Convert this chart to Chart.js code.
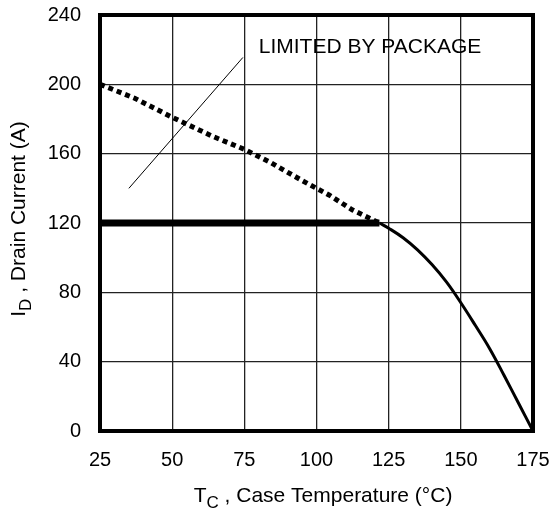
<!DOCTYPE html>
<html>
<head>
<meta charset="utf-8">
<script src="https://cdn.jsdelivr.net/npm/chart.js@4/dist/chart.umd.min.js"></script>
<style>
  body { margin: 0; background: #fff; }
  #wrap { width: 553px; height: 519px; }
</style>
</head>
<body>
<div id="wrap"><canvas id="chart"></canvas></div>
<script>
// values
var xTicks = [25, 50, 75, 100, 125, 150, 175];
var yTicks = [0, 40, 80, 120, 160, 200, 240];

// package limit (dotted)
var pkgTemp    = [25, 37, 50, 64, 75, 84, 95, 104.5, 112.5, 121.8];
var pkgCurrent = [200, 192, 181, 170, 162.5, 155, 144.5, 136, 127.5, 120];

// flat 120 A limit (thick)
var flatTemp    = [25, 121.8];
var flatCurrent = [120, 120];

// die limit derating curve
var dieTemp    = [121.8, 125, 130, 135, 140, 145, 150, 155, 160, 165, 170, 175];
var dieCurrent = [120, 117, 111.5, 104.5, 96, 86, 74, 61, 47.5, 32, 16, 0];

// pointer line to the note
var noteTemp    = [35, 74.5];
var noteCurrent = [140, 215.5];
var noteText = 'LIMITED BY PACKAGE';

function pts(xs, ys){
  return xs.map((x, i) => ({x: x, y: ys[i]}));
}

var FONT = '"Liberation Sans", Arial, Helvetica, sans-serif';

// frame, note text and axis titles with subscripts
var extras = {
  id: 'extras',
  afterDatasetsDraw(chart){
    var ctx = chart.ctx, a = chart.chartArea;
    var sx = chart.scales.x, sy = chart.scales.y;
    ctx.save();
    ctx.strokeStyle = '#000';
    ctx.lineWidth = 4;
    ctx.strokeRect(a.left, a.top, a.right - a.left, a.bottom - a.top);

    ctx.fillStyle = '#000';
    ctx.font = '21px ' + FONT;
    ctx.textBaseline = 'middle';
    ctx.textAlign = 'left';
    ctx.fillText(noteText, sx.getPixelForValue(80), sy.getPixelForValue(221.5));

    ctx.textBaseline = 'alphabetic';
    // x title
    drawSub(ctx, 323, 502, 'T', 'C', ' , Case Temperature (°C)');
    // y title
    ctx.translate(25, 219);
    ctx.rotate(-Math.PI / 2);
    drawSub(ctx, 0, 0, 'I', 'D', ' , Drain Current (A)');
    ctx.restore();
  }
};

function drawSub(ctx, cx, base, main, sub, rest){
  var big = '21px ' + FONT, small = '17px ' + FONT;
  ctx.font = big;
  var w1 = ctx.measureText(main).width;
  var w3 = ctx.measureText(rest).width;
  ctx.font = small;
  var w2 = ctx.measureText(sub).width;
  var x = cx - (w1 + w2 + w3) / 2;
  ctx.textAlign = 'left';
  ctx.font = big;
  ctx.fillText(main, x, base);
  ctx.font = small;
  ctx.fillText(sub, x + w1, base + 6);
  ctx.font = big;
  ctx.fillText(rest, x + w1 + w2, base);
}

new Chart(document.getElementById('chart'), {
  type: 'scatter',
  data: {
    datasets: [
      {
        data: pts(pkgTemp, pkgCurrent),
        showLine: true, borderColor: '#000', borderWidth: 5,
        borderDash: [5, 4], pointRadius: 0, clip: 8
      },
      {
        data: pts(flatTemp, flatCurrent),
        showLine: true, borderColor: '#000', borderWidth: 7,
        pointRadius: 0, clip: 8
      },
      {
        data: pts(dieTemp, dieCurrent),
        showLine: true, borderColor: '#000', borderWidth: 3,
        tension: 0.4, pointRadius: 0, clip: 8
      },
      {
        data: pts(noteTemp, noteCurrent),
        showLine: true, borderColor: '#000', borderWidth: 1,
        pointRadius: 0
      }
    ]
  },
  options: {
    responsive: true,
    maintainAspectRatio: false,
    animation: false,
    layout: { padding: { left: 0, right: 20, top: 15, bottom: 0 } },
    plugins: {
      legend: { display: false },
      tooltip: { enabled: false }
    },
    scales: {
      x: {
        type: 'linear', min: 25, max: 175,
        afterBuildTicks: s => { s.ticks = xTicks.map(v => ({value: v})); },
        afterFit: s => { s.height = 88; s.paddingLeft = 0; s.paddingRight = 0; },
        grid: { color: '#222', lineWidth: 1.3, drawTicks: false },
        border: { display: false },
        ticks: { color: '#000', padding: 17, font: { family: FONT, size: 20 } }
      },
      y: {
        min: 0, max: 240,
        afterBuildTicks: s => { s.ticks = yTicks.map(v => ({value: v})); },
        afterFit: s => { s.width = 100; s.paddingTop = 0; s.paddingBottom = 0; },
        grid: { color: '#222', lineWidth: 1.3, drawTicks: false },
        border: { display: false },
        ticks: { color: '#000', padding: 19, font: { family: FONT, size: 20 } }
      }
    }
  },
  plugins: [extras]
});
</script>
</body>
</html>
